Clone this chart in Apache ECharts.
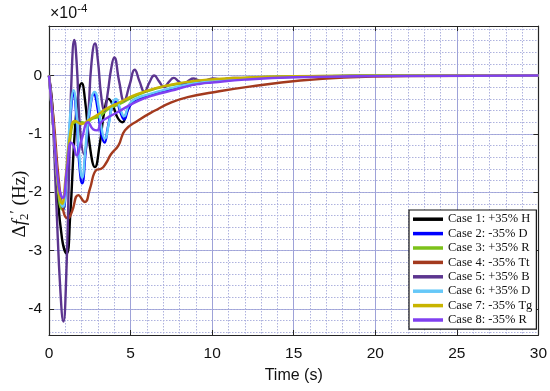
<!DOCTYPE html>
<html>
<head>
<meta charset="utf-8">
<script src="https://cdn.jsdelivr.net/npm/echarts@6/dist/echarts.min.js"></script>
<style>html,body{margin:0;padding:0;background:#fff}#c{width:550px;height:391px}</style>
</head>
<body>
<div id="c"></div>
<script>
// values in units of 1e-4 Hz, [time (s), value]
var case1 = [[0,0],[0.2,-0.5],[0.5,-1.9],[0.8,-2.8],[1.08,-3.05],[1.3,-2.4],[1.55,-1.1],[1.8,-0.3],[2.0,-0.13],[2.2,-0.4],[2.5,-1.2],[2.82,-1.57],[3.1,-1.2],[3.4,-0.6],[3.65,-0.4],[3.9,-0.5],[4.2,-0.72],[4.5,-0.8],[4.8,-0.6],[5.2,-0.42],[5.7,-0.38],[6.2,-0.34],[7,-0.27],[8,-0.2],[9,-0.14],[10,-0.1],[12,-0.05],[15,-0.02],[20,-0.005],[30,0]];
var case2 = [[0,0],[0.3,-1.0],[0.6,-2.0],[0.85,-2.3],[1.1,-1.6],[1.35,-0.6],[1.5,-0.3],[1.7,-0.8],[1.85,-1.5],[2.03,-1.85],[2.25,-1.3],[2.5,-0.6],[2.75,-0.32],[3.0,-0.6],[3.2,-1.0],[3.4,-1.15],[3.6,-0.9],[3.9,-0.5],[4.1,-0.45],[4.4,-0.65],[4.6,-0.75],[4.9,-0.55],[5.3,-0.42],[6,-0.36],[7,-0.27],[8,-0.2],[9,-0.14],[10,-0.1],[12,-0.05],[15,-0.02],[20,-0.005],[30,0]];
var case3 = [[0,0],[0.3,-1.0],[0.6,-2.1],[0.8,-2.3],[1.0,-1.9],[1.3,-1.1],[1.6,-0.8],[2.0,-0.8],[2.3,-0.82],[2.6,-0.75],[3.1,-0.7],[3.6,-0.58],[4.4,-0.48],[5.2,-0.36],[6.6,-0.22],[8,-0.14],[10,-0.08],[12,-0.04],[15,-0.015],[20,-0.003],[30,0]];
var case4 = [[0,0],[0.3,-0.8],[0.6,-1.8],[0.9,-2.35],[1.15,-2.45],[1.4,-2.34],[1.8,-2.05],[2.2,-2.17],[2.5,-1.95],[2.9,-1.62],[3.2,-1.6],[3.5,-1.5],[3.8,-1.35],[4.25,-1.2],[4.66,-0.94],[5.46,-0.77],[6.5,-0.6],[7.5,-0.46],[8.5,-0.37],[10,-0.29],[12.3,-0.19],[15.4,-0.085],[18.5,-0.03],[22,-0.01],[30,0]];
var case5 = [[0,0],[0.2,-0.6],[0.45,-2.2],[0.7,-3.7],[0.88,-4.22],[1.05,-3.5],[1.25,-1.4],[1.4,0.1],[1.55,0.61],[1.7,0.2],[1.9,-0.9],[2.15,-1.35],[2.4,-0.7],[2.6,0.2],[2.82,0.55],[3.0,0.25],[3.2,-0.35],[3.4,-0.6],[3.6,-0.3],[3.8,0.1],[4.0,0.31],[4.3,-0.1],[4.6,-0.43],[4.95,-0.15],[5.25,0.1],[5.55,-0.1],[5.85,-0.28],[6.15,-0.12],[6.45,0.0],[6.75,-0.1],[7.05,-0.2],[7.35,-0.11],[7.65,-0.04],[7.95,-0.1],[8.25,-0.15],[8.55,-0.09],[8.85,-0.05],[9.15,-0.08],[9.45,-0.1],[9.75,-0.07],[10.05,-0.05],[10.35,-0.06],[10.65,-0.07],[10.95,-0.05],[11.25,-0.04],[12,-0.045],[14,-0.03],[17,-0.015],[20,-0.005],[25,0],[30,0]];
var case6 = [[0,0],[0.3,-1.0],[0.6,-2.0],[0.85,-2.25],[1.1,-1.5],[1.35,-0.5],[1.5,-0.25],[1.7,-0.7],[1.85,-1.35],[2.03,-1.75],[2.25,-1.2],[2.5,-0.55],[2.8,-0.28],[3.05,-0.55],[3.25,-0.95],[3.42,-1.08],[3.65,-0.85],[3.9,-0.48],[4.1,-0.4],[4.4,-0.6],[4.6,-0.7],[4.9,-0.5],[5.3,-0.4],[6,-0.33],[7,-0.25],[8,-0.18],[9,-0.13],[10,-0.09],[12,-0.045],[15,-0.02],[20,-0.005],[30,0]];
var case7 = [[0,0],[0.3,-1.0],[0.6,-2.0],[0.8,-2.2],[1.0,-1.8],[1.3,-1.0],[1.6,-0.78],[2.0,-0.83],[2.5,-0.75],[3.0,-0.67],[3.5,-0.57],[4.4,-0.45],[5.2,-0.34],[6.6,-0.21],[8,-0.13],[9.7,-0.07],[12,-0.035],[15,-0.012],[20,-0.002],[30,0]];
var case8 = [[0,0],[0.3,-1.0],[0.6,-1.9],[0.85,-2.1],[1.1,-1.6],[1.35,-1.15],[1.5,-1.2],[1.7,-1.37],[2.0,-1.1],[2.4,-0.8],[2.7,-0.92],[2.95,-0.94],[3.2,-0.8],[3.6,-0.72],[4,-0.66],[4.5,-0.58],[5.5,-0.43],[6.5,-0.33],[7.5,-0.26],[8.5,-0.18],[9.3,-0.14],[10,-0.12],[12,-0.07],[15,-0.03],[20,-0.01],[30,0]];

var caseNames = ['Case 1: +35% H','Case 2: -35% D','Case 3: +35% R','Case 4: -35% Tt','Case 5: +35% B','Case 6: +35% D','Case 7: -35% Tg','Case 8: -35% R'];
var caseColors = ['#000000','#0000ff','#7cc21a','#a33a1e','#5c358f','#66c8f8','#c8b400','#8040f0'];
var caseData = [case1,case2,case3,case4,case5,case6,case7,case8];

var yMajorTicks = [-4,-3,-2,-1,0];
var yMinorTicks = [-4.4,-4.2,-4,-3.8,-3.6,-3.4,-3.2,-3,-2.8,-2.6,-2.4,-2.2,-2,-1.8,-1.6,-1.4,-1.2,-1,-0.8,-0.6,-0.4,-0.2,0,0.2,0.4,0.6,0.8];
var xMin = 0, xMax = 30, xStep = 5;
var yMin = -4.45, yMax = 0.85;

var sans = 'Liberation Sans, Arial, sans-serif';
var serif = 'Liberation Serif, Times New Roman, serif';
var frameColor = '#262626';
var majorGrid = '#9ea2d8';
var minorGrid = '#aeb2de';

var chart = echarts.init(document.getElementById('c'), null, {renderer:'canvas'});
var series = caseData.map(function(d, i){
  return {
    name: caseNames[i], type: 'line', data: d, xAxisIndex: 0, yAxisIndex: 0,
    showSymbol: false, symbol: 'none', smooth: 0.5,
    lineStyle: {color: caseColors[i], width: 2.4}, itemStyle: {color: caseColors[i]},
    animation: false, z: 3 + i
  };
});

chart.setOption({
  animation: false,
  grid: {left: 49, right: 11, top: 26, bottom: 56, containLabel: false},
  xAxis: [
    {type:'value', min:xMin, max:xMax, interval:xStep, position:'bottom',
     axisLine:{show:true, onZero:false, lineStyle:{color:frameColor, width:1.2}},
     axisTick:{show:true, inside:true, length:5, lineStyle:{color:frameColor}},
     axisLabel:{show:true, margin:11, color:'#111', fontSize:15.5, fontFamily:sans},
     splitLine:{show:true, lineStyle:{color:majorGrid, width:1}},
     minorTick:{show:false, splitNumber:5},
     minorSplitLine:{show:true, lineStyle:{color:minorGrid, width:1, type:[1.5,1.5]}},
     name:'Time (s)', nameLocation:'middle', nameGap:33,
     nameTextStyle:{fontSize:16, color:'#111', fontFamily:sans}},
    {type:'value', min:xMin, max:xMax, interval:xStep, position:'top',
     axisLine:{show:true, onZero:false, lineStyle:{color:frameColor, width:1.2}},
     axisTick:{show:true, inside:true, length:5, lineStyle:{color:frameColor}},
     axisLabel:{show:false}, splitLine:{show:false}}
  ],
  yAxis: [
    {type:'value', min:yMin, max:yMax, position:'left',
     axisLine:{show:true, onZero:false, lineStyle:{color:frameColor, width:1.2}},
     axisTick:{show:true, inside:true, length:5, customValues:yMajorTicks, lineStyle:{color:frameColor}},
     axisLabel:{show:true, margin:7, customValues:yMajorTicks, color:'#111', fontSize:15.5, fontFamily:sans},
     splitLine:{show:true, lineStyle:{color:majorGrid, width:1}}},
    {type:'value', min:yMin, max:yMax, position:'right',
     axisLine:{show:true, onZero:false, lineStyle:{color:frameColor, width:1.2}},
     axisTick:{show:true, inside:true, length:5, customValues:yMajorTicks, lineStyle:{color:frameColor}},
     axisLabel:{show:false}, splitLine:{show:false}},
    {type:'value', min:yMin, max:yMax, position:'left', offset:0,
     axisLine:{show:false}, axisTick:{show:false, customValues:yMinorTicks},
     axisLabel:{show:false, customValues:yMinorTicks},
     splitLine:{show:true, lineStyle:{color:minorGrid, width:1, type:[1.5,1.5]}}, z:0}
  ],
  legend: {
    show:true, orient:'vertical', left:409, top:210, padding:[2,4,2,4],
    itemWidth:30, itemHeight:3.5, itemGap:0, icon:'rect',
    backgroundColor:'#fff', borderColor:'#111', borderWidth:1.2,
    textStyle:{fontFamily:serif, fontSize:12.5, color:'#111', lineHeight:14.4},
    data: caseNames
  },
  graphic: [
    {type:'text', left:50, top:3, style:{
      text:'{a|×10}{b|-4}', rich:{a:{fontSize:16, fontFamily:sans, fill:'#111', lineHeight:21}, b:{fontSize:11.5, fontFamily:sans, fill:'#111', verticalAlign:'top', lineHeight:21}}}},
    {type:'text', x:20, y:204, rotation:Math.PI/2, style:{
      text:'{d|Δ}{f|f}{s|2}{p|′}{h| (Hz)}', align:'center', verticalAlign:'middle',
      rich:{d:{fontSize:19, fontFamily:serif, fill:'#111', lineHeight:22},
            f:{fontSize:19, fontFamily:serif, fontStyle:'italic', fill:'#111', lineHeight:22},
            s:{fontSize:13, fontFamily:serif, fill:'#111', verticalAlign:'bottom', lineHeight:22},
            p:{fontSize:15, fontFamily:serif, fill:'#111', verticalAlign:'top', lineHeight:22},
            h:{fontSize:19, fontFamily:serif, fill:'#111', lineHeight:22}}}}
  ],
  series: series
});
</script>
</body>
</html>
